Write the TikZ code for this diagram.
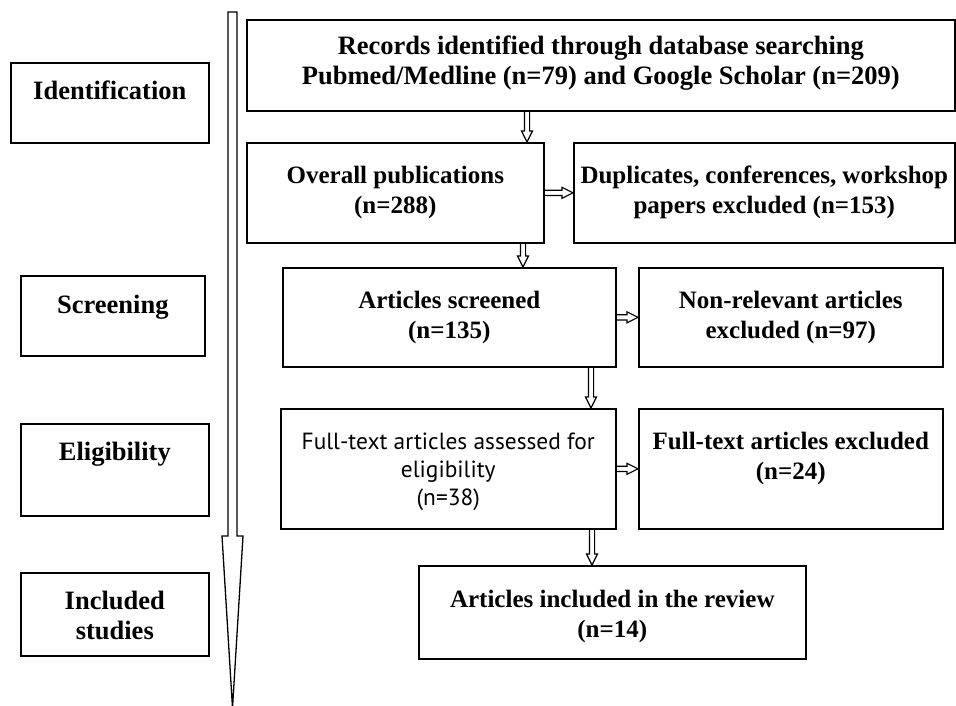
\documentclass[tikz,border=0pt]{standalone}
\usepackage{fontspec}
\setmainfont{Liberation Serif}
\newfontfamily\sansf{PT Sans}
\usetikzlibrary{calc}
\newcommand\tb[4]{\parbox[c][#2pt][t]{#1pt}{\centering\rule{0pt}{#3pt}#4}}
\newcommand\hdown[3]{%
  \path[harrow] let \p1=(#2), \p2=(#3) in
  (#1pt-2.6pt,\y1) -- (#1pt-2.6pt,\y2+11pt) -- (#1pt-5.5pt,\y2+11pt) -- (#1pt,\y2)
  -- (#1pt+5.5pt,\y2+11pt) -- (#1pt+2.6pt,\y2+11pt) -- (#1pt+2.6pt,\y1);}
\newcommand\hright[2]{%
  \path[harrow] let \p1=(#1.east), \p2=(#2.west) in
  (\x1,\y1+2.6pt) -- (\x2-11pt,\y1+2.6pt) -- (\x2-11pt,\y1+5.5pt) -- (\x2,\y1)
  -- (\x2-11pt,\y1-5.5pt) -- (\x2-11pt,\y1-2.6pt) -- (\x1,\y1-2.6pt);}
\begin{document}
\begin{tikzpicture}[x=1pt,y=-1pt,
  box/.style={draw, line width=1.6pt, inner sep=0pt, anchor=north west,
    font=\bfseries\fontsize{25}{30}\selectfont},
  lab/.style={box, font=\bfseries\fontsize{26.5}{30}\selectfont},
  sbox/.style={box, font=\sansf\fontsize{23.4}{28}\selectfont},
  harrow/.style={draw, line width=1.2pt, line join=miter}]
\useasboundingbox (0,0) rectangle (956,706);
% stage labels
\node[lab] (idn) at (10,62) {\tb{198}{80}{37}{Identification}};
\node[lab] (scr) at (20,275) {\tb{184}{80}{38}{Screening}};
\node[lab] (eli) at (20,423) {\tb{188}{92}{37}{Eligibility}};
\node[lab] (inc) at (20,572) {\tb{188}{83}{37}{Included\\studies}};
% big arrow
\draw[line width=1.3pt, line join=miter] (228,12) -- (237,12) -- (237,536) -- (243,536)
  -- (232.5,708) -- (222,536) -- (228,536) -- cycle;
% flow boxes
\node[box, font=\bfseries\fontsize{26.5}{30}\selectfont] (top) at (246,19) {\tb{708}{91}{35}{Records identified through database searching\\Pubmed/Medline (n=79) and Google Scholar (n=209)}};
\node[box] (ov) at (246,142) {\tb{297}{100}{41}{Overall publications\\(n=288)}};
\node[box] (dup) at (573,142) {\tb{381}{100}{41}{Duplicates, conferences, workshop\\papers excluded (n=153)}};
\node[box] (scd) at (282,267) {\tb{333}{99}{41}{Articles screened\\(n=135)}};
\node[box] (nrel) at (638,267) {\tb{304}{99}{41}{Non-relevant articles\\excluded (n=97)}};
\node[sbox] (ft) at (280,408) {\tb{335}{120}{41}{Full-text articles assessed for\\eligibility\\(n=38)}};
\node[box] (fte) at (638,408) {\tb{304}{120}{41}{Full-text articles excluded\\(n=24)}};
\node[box] (incr) at (418,565) {\tb{387}{93}{42}{Articles included in the review\\(n=14)}};
% connectors
\hdown{527}{top.south}{ov.north}
\hright{ov}{dup}
\hdown{523}{ov.south}{scd.north}
\hright{scd}{nrel}
\hdown{591}{scd.south}{ft.north}
\hright{ft}{fte}
\hdown{592}{ft.south}{incr.north}
\end{tikzpicture}
\end{document}
